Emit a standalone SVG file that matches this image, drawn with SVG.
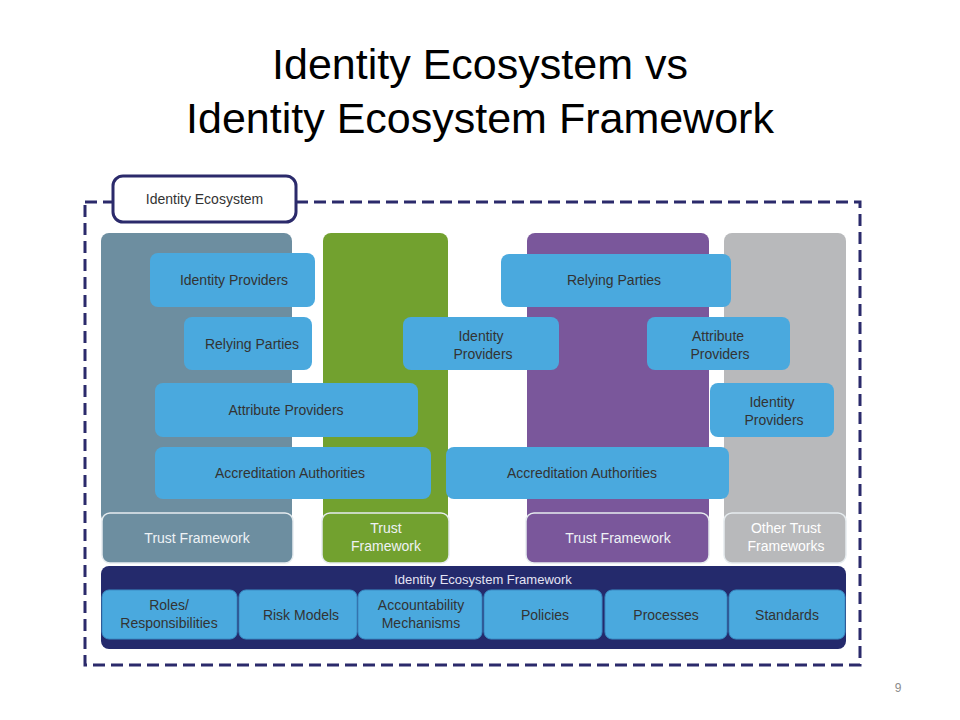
<svg xmlns="http://www.w3.org/2000/svg" width="960" height="720" viewBox="0 0 960 720">
<style>
.title{font-family:"Liberation Sans",Arial,sans-serif;font-size:43px;fill:#000;text-anchor:middle}
.t{font-family:"Liberation Sans",Arial,sans-serif;font-size:14px;fill:#333;text-anchor:middle}
.w{font-family:"Liberation Sans",Arial,sans-serif;font-size:14px;fill:#eef2f5;text-anchor:middle}
.blue{fill:#4aa9de}
.sub{fill:#4aa9de;stroke:#3a8cc4;stroke-width:1}
.tf{stroke:#e6ecef;stroke-width:1.5}
</style>
<rect width="960" height="720" fill="#fff"/>
<text class="title" x="480" y="79">Identity Ecosystem vs</text>
<text class="title" x="480" y="133">Identity Ecosystem Framework</text>

<g id="ecosystem-border">
<path d="M85,202 H113 M296,202 H860 V665 H85 V202" fill="none" stroke="#2b2a6b" stroke-width="3" stroke-dasharray="12,6"/>
</g>
<g id="ecosystem-label">
<rect x="113" y="176" width="183" height="46" rx="10" fill="#fff" stroke="#2b2a6b" stroke-width="3"/>
<text class="t" x="204.5" y="204" style="fill:#333">Identity Ecosystem</text>
</g>

<g id="col-bluegray">
<rect x="101" y="233" width="191" height="290" rx="8" fill="#6d8ea0"/>
</g>
<g id="col-green">
<rect x="323" y="233" width="125" height="290" rx="8" fill="#72a12f"/>
</g>
<g id="col-purple">
<rect x="527" y="233" width="182" height="290" rx="8" fill="#7a579b"/>
</g>
<g id="col-gray">
<rect x="724" y="233" width="122" height="290" rx="8" fill="#b8b9bb"/>
</g>

<g id="tf-bluegray">
<rect class="tf" x="102" y="513" width="191" height="50" rx="8" fill="#6d8ea0"/>
<text class="w" x="197" y="543">Trust Framework</text>
</g>
<g id="tf-green">
<rect class="tf" x="322" y="513" width="127" height="50" rx="8" fill="#72a12f"/>
<text class="w" x="386" y="533">Trust</text>
<text class="w" x="386" y="551">Framework</text>
</g>
<g id="tf-purple">
<rect class="tf" x="526" y="513" width="183" height="50" rx="8" fill="#7a579b"/>
<text class="w" x="618" y="543">Trust Framework</text>
</g>
<g id="tf-other">
<rect class="tf" x="724" y="513" width="122" height="50" rx="8" fill="#b8b9bb"/>
<text class="w" x="786" y="533" style="fill:#fff">Other Trust</text>
<text class="w" x="786" y="551" style="fill:#fff">Frameworks</text>
</g>

<g id="idp-left">
<rect class="blue" x="150" y="253" width="165" height="54" rx="8"/>
<text class="t" x="234" y="285">Identity Providers</text>
</g>
<g id="rp-left">
<rect class="blue" x="184" y="317" width="128" height="53" rx="8"/>
<text class="t" x="252" y="349">Relying Parties</text>
</g>
<g id="ap-left">
<rect class="blue" x="155" y="383" width="263" height="54" rx="8"/>
<text class="t" x="286" y="415">Attribute Providers</text>
</g>
<g id="aa-left">
<rect class="blue" x="155" y="447" width="276" height="52" rx="8"/>
<text class="t" x="290" y="478">Accreditation Authorities</text>
</g>
<g id="idp-mid">
<rect class="blue" x="403" y="317" width="156" height="53" rx="8"/>
<text class="t" x="481" y="341">Identity</text>
<text class="t" x="483" y="359">Providers</text>
</g>
<g id="rp-right">
<rect class="blue" x="501" y="254" width="230" height="53" rx="8"/>
<text class="t" x="614" y="285">Relying Parties</text>
</g>
<g id="ap-right">
<rect class="blue" x="647" y="317" width="143" height="53" rx="8"/>
<text class="t" x="718" y="341">Attribute</text>
<text class="t" x="720" y="359">Providers</text>
</g>
<g id="aa-right">
<rect class="blue" x="446" y="447" width="283" height="52" rx="8"/>
<text class="t" x="582" y="478">Accreditation Authorities</text>
</g>
<g id="idp-gray">
<rect class="blue" x="710" y="383" width="124" height="54" rx="8"/>
<text class="t" x="772" y="407">Identity</text>
<text class="t" x="774" y="425">Providers</text>
</g>

<g id="ief">
<rect x="101" y="566" width="745" height="83" rx="8" fill="#242a6c"/>
<text class="w" x="483" y="584" style="font-size:13px;fill:#e4e4f4">Identity Ecosystem Framework</text>
</g>
<g id="ief-roles">
<rect class="sub" x="102" y="590" width="135" height="49" rx="7"/>
<text class="t" x="169" y="610">Roles/</text>
<text class="t" x="169" y="628">Responsibilities</text>
</g>
<g id="ief-risk">
<rect class="sub" x="239" y="590" width="118" height="49" rx="7"/>
<text class="t" x="301" y="620">Risk Models</text>
</g>
<g id="ief-acct">
<rect class="sub" x="358" y="590" width="124" height="49" rx="7"/>
<text class="t" x="421" y="610">Accountability</text>
<text class="t" x="421" y="628">Mechanisms</text>
</g>
<g id="ief-policies">
<rect class="sub" x="484" y="590" width="118" height="49" rx="7"/>
<text class="t" x="545" y="620">Policies</text>
</g>
<g id="ief-processes">
<rect class="sub" x="605" y="590" width="122" height="49" rx="7"/>
<text class="t" x="666" y="620">Processes</text>
</g>
<g id="ief-standards">
<rect class="sub" x="729" y="590" width="116" height="49" rx="7"/>
<text class="t" x="787" y="620">Standards</text>
</g>

<g id="connectors"></g>

<text x="898" y="692" style="font-family:'Liberation Sans',Arial,sans-serif;font-size:12px;fill:#8c8c8c;text-anchor:middle">9</text>
</svg>
